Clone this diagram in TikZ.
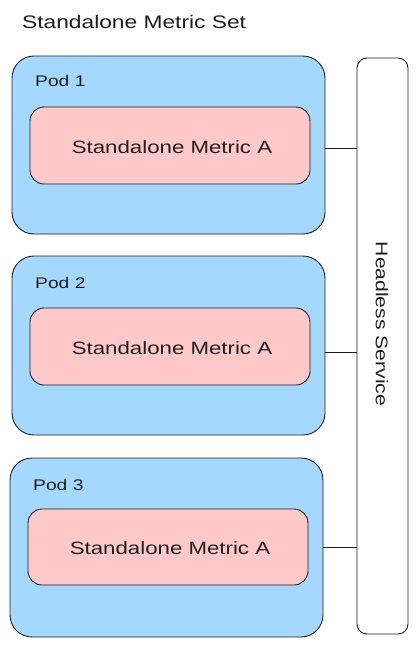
\documentclass[tikz,border=0pt]{standalone}
\usepackage{fontspec}
\setmainfont{Liberation Sans}[FakeStretch=1.25]
\definecolor{podblue}{HTML}{A5D8FF}
\definecolor{metpink}{HTML}{FFC9C9}
\definecolor{ink}{HTML}{1E1E1E}
\begin{document}
\begin{tikzpicture}[x=1pt,y=-1pt,
  podbox/.style={draw=ink,line width=0.9pt,fill=podblue,rounded corners=22pt},
  metbox/.style={draw=ink,line width=0.9pt,fill=metpink,rounded corners=14pt},
  svcbox/.style={draw=ink,line width=0.9pt,fill=white,rounded corners=10pt},
  conn/.style={draw=ink,line width=0.9pt},
  lbl/.style={font=\fontsize{17.8}{20}\selectfont,text=ink,inner sep=0pt},
  titlelbl/.style={font=\fontsize{18.2}{20}\selectfont,text=ink,inner sep=0pt,anchor=west},
  svclbl/.style={font=\fontsize{16.9}{20}\selectfont,text=ink,inner sep=0pt,rotate=-90},
  podlbl/.style={font=\fontsize{15.4}{19}\selectfont,text=ink,inner sep=0pt,anchor=west}]
\useasboundingbox (0,0) rectangle (418,646);
\node[titlelbl] (title) at (22,22) {Standalone Metric Set};
% service
\draw[svcbox] (357,58) rectangle (408,634);
\node[svclbl] (svc) at (382,324) {Headless Service};
\coordinate (svcL1) at (357,148);
\coordinate (svcL2) at (357,352);
\coordinate (svcL3) at (357,547);
% pod 1
\draw[podbox] (12,56) rectangle (325,234);
\coordinate (pod1R) at (325,148);
\node[podlbl] (p1) at (35,81) {Pod 1};
\draw[metbox] (30,107) rectangle (310,184);
\node[lbl] (m1) at (172,147) {Standalone Metric A};
% pod 2
\draw[podbox] (12,256) rectangle (325,435);
\coordinate (pod2R) at (325,352);
\node[podlbl] (p2) at (35,283) {Pod 2};
\draw[metbox] (30,308) rectangle (310,385);
\node[lbl] (m2) at (172,348) {Standalone Metric A};
% pod 3
\draw[podbox] (10,458) rectangle (323,637);
\coordinate (pod3R) at (323,547);
\node[podlbl] (p3) at (33,485) {Pod 3};
\draw[metbox] (28,509) rectangle (308,585);
\node[lbl] (m3) at (170,548) {Standalone Metric A};
% connectors
\draw[conn] (pod1R) -- (svcL1);
\draw[conn] (pod2R) -- (svcL2);
\draw[conn] (pod3R) -- (svcL3);
\end{tikzpicture}
\end{document}
